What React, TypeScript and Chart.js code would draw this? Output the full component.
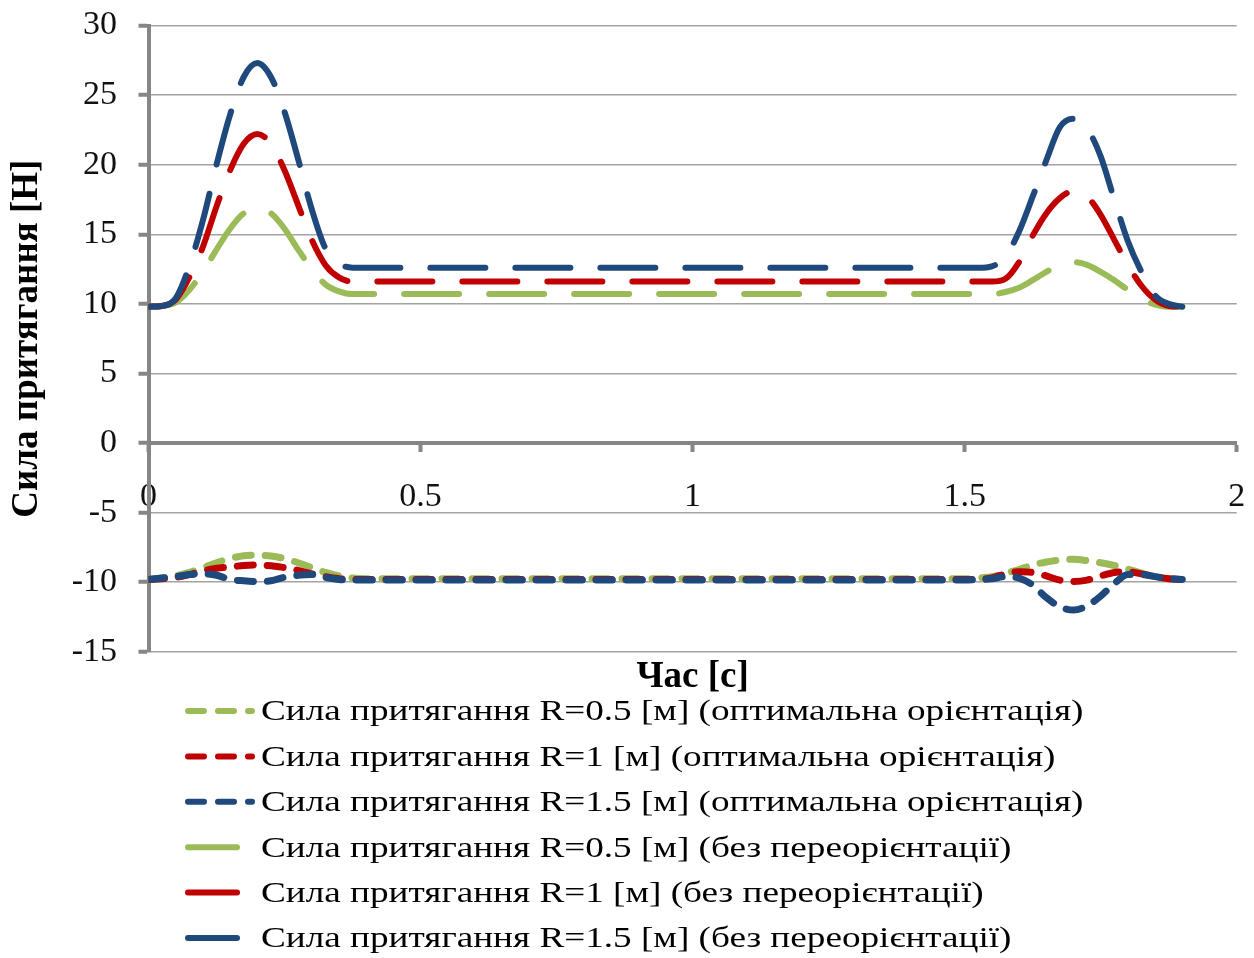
import React, { useEffect, useRef } from 'react';
import { Chart, registerables } from 'chart.js';

Chart.register(...registerables);

// Час, с
const TIME = [
  0, 0.025, 0.05, 0.075, 0.1, 0.125, 0.15, 0.175, 0.2, 0.225, 0.25, 0.275, 0.3, 0.325, 0.35, 0.375, 0.4,
  0.5, 0.6, 0.7, 0.8, 0.9, 1.0, 1.1, 1.2, 1.3, 1.4,
  1.5, 1.525, 1.55, 1.575, 1.6, 1.625, 1.65, 1.675, 1.7, 1.725, 1.75, 1.775, 1.8, 1.825, 1.85, 1.875, 1.9,
];

// Сила притягання, оптимальна орієнтація
const OPT_R05 = [
  -9.8, -9.7, -9.55, -9.3, -8.95, -8.6, -8.3, -8.1, -8.05, -8.12, -8.3, -8.6, -8.95, -9.3, -9.55, -9.7, -9.75,
  -9.75, -9.75, -9.75, -9.75, -9.75, -9.75, -9.75, -9.75, -9.75, -9.75,
  -9.75, -9.7, -9.6, -9.35, -9.1, -8.75, -8.55, -8.4, -8.35, -8.45, -8.6, -8.8, -9.05, -9.35, -9.6, -9.75, -9.8,
];
const OPT_R1 = [
  -9.8, -9.75, -9.65, -9.45, -9.2, -9.0, -8.9, -8.8, -8.76, -8.82, -8.95, -9.15, -9.4, -9.6, -9.75, -9.8, -9.8,
  -9.8, -9.8, -9.8, -9.8, -9.8, -9.8, -9.8, -9.8, -9.8, -9.8,
  -9.8, -9.8, -9.7, -9.4, -9.25, -9.3, -9.55, -9.85, -9.95, -9.85, -9.55, -9.3, -9.25, -9.4, -9.6, -9.75, -9.8,
];
const OPT_R15 = [
  -9.8, -9.7, -9.6, -9.45, -9.4, -9.5, -9.8, -9.9, -9.95, -9.9, -9.65, -9.5, -9.45, -9.65, -9.8, -9.85, -9.85,
  -9.85, -9.85, -9.85, -9.85, -9.85, -9.85, -9.85, -9.85, -9.85, -9.85,
  -9.85, -9.8, -9.75, -9.6, -9.7, -10.2, -11.1, -11.76, -12.0, -11.7, -11.0, -10.1, -9.45, -9.45, -9.6, -9.75, -9.8,
];

// Сила притягання без переорієнтації
const FREE_R05 = [
  9.8, 9.85, 10.1, 11.0, 12.3, 13.9, 15.4, 16.5, 16.8, 16.5, 15.4, 13.9, 12.5, 11.4, 10.9, 10.7, 10.7,
  10.7, 10.7, 10.7, 10.7, 10.7, 10.7, 10.7, 10.7, 10.7, 10.7,
  10.7, 10.7, 10.7, 10.85, 11.15, 11.7, 12.3, 12.8, 13.0, 12.8, 12.3, 11.7, 11.0, 10.35, 9.95, 9.8, 9.8,
];
const FREE_R1 = [
  9.8, 9.85, 10.3, 11.9, 14.1, 17.0, 19.6, 21.5, 22.2, 21.5, 19.6, 17.1, 14.6, 12.8, 11.9, 11.6, 11.6,
  11.6, 11.6, 11.6, 11.6, 11.6, 11.6, 11.6, 11.6, 11.6, 11.6,
  11.6, 11.6, 11.6, 11.8, 13.0, 14.9, 16.5, 17.6, 18.1, 17.7, 16.4, 14.6, 12.8, 11.3, 10.3, 9.85, 9.8,
];
const FREE_R15 = [
  9.8, 9.85, 10.4, 12.7, 16.0, 20.0, 23.6, 26.3, 27.3, 26.3, 23.8, 20.4, 16.8, 14.0, 12.9, 12.6, 12.6,
  12.6, 12.6, 12.6, 12.6, 12.6, 12.6, 12.6, 12.6, 12.6, 12.6,
  12.6, 12.6, 12.7, 13.4, 15.2, 17.7, 20.3, 22.7, 23.3, 22.6, 20.6, 17.5, 14.5, 12.3, 10.6, 10.0, 9.8,
];

const SERIES_LABELS = [
  'Сила притягання R=0.5 [м] (оптимальна орієнтація)',
  'Сила притягання R=1 [м] (оптимальна орієнтація)',
  'Сила притягання R=1.5 [м] (оптимальна орієнтація)',
  'Сила притягання R=0.5 [м] (без переорієнтації)',
  'Сила притягання R=1 [м] (без переорієнтації)',
  'Сила притягання R=1.5 [м] (без переорієнтації)',
];

const Y_TICKS = { min: -15, max: 30, step: 5 };
const X_TICKS = { min: 0, max: 2, step: 0.5 };

const X_TITLE = 'Час [с]';
const Y_TITLE = 'Сила притягання [Н]';

const GREEN = '#9BBB59';
const RED = '#C00000';
const BLUE = '#1F497D';
const AXIS = '#868686';
const GRID = '#a3a3a3';
const SERIF = "'Liberation Serif', 'Times New Roman', serif";

const OPT_DASH = [16, 14];
const FREE_DASH = [55, 30];

// legend geometry (a single left-aligned column under the axis title)
const LEGEND = {
  indent: 39.5, // from the plot's left edge to the sample line
  firstRow: 4.8, // below the bottom of the title band
  rowStep: 45.4,
  dashedLength: 64,
  solidLength: 49,
  textGap: 73,
  fontSize: 30,
  stretch: 1.24,
};

function points(values: number[]) {
  return values.map((v, i) => ({ x: TIME[i], y: v }));
}

function dropScalePadding(scale: any) {
  scale.paddingLeft = 0;
  scale.paddingRight = 0;
  scale.paddingTop = 0;
  scale.paddingBottom = 0;
}

// draws the legend as one column with line samples and wide serif captions
const columnLegend = {
  id: 'columnLegend',
  afterDraw(chart: any) {
    const ctx: CanvasRenderingContext2D = chart.ctx;
    const left = chart.chartArea.left + LEGEND.indent;
    const top = chart.scales.xTitle.bottom + LEGEND.firstRow;
    chart.data.datasets.forEach((ds: any, i: number) => {
      const y = top + i * LEGEND.rowStep;
      const dashed = ds.legendDashed;
      ctx.save();
      ctx.strokeStyle = ds.borderColor;
      ctx.lineWidth = 6;
      ctx.lineCap = 'round';
      ctx.setLineDash(dashed ? OPT_DASH : []);
      ctx.beginPath();
      ctx.moveTo(left, y);
      ctx.lineTo(left + (dashed ? LEGEND.dashedLength : LEGEND.solidLength), y);
      ctx.stroke();
      ctx.setLineDash([]);
      ctx.translate(left + LEGEND.textGap, y + 1.5);
      ctx.scale(LEGEND.stretch, 1);
      ctx.font = `${LEGEND.fontSize}px ${SERIF}`;
      ctx.fillStyle = '#000';
      ctx.textAlign = 'left';
      ctx.textBaseline = 'middle';
      ctx.fillText(ds.label, 0, 0);
      ctx.restore();
    });
  },
};

export default function App() {
  const canvasRef = useRef<HTMLCanvasElement | null>(null);

  useEffect(() => {
    document.body.style.margin = '0';
    const canvas = canvasRef.current;
    if (!canvas) return;

    const series = [
      { values: OPT_R05, color: GREEN, opt: true, order: 2 },
      { values: OPT_R1, color: RED, opt: true, order: 1 },
      { values: OPT_R15, color: BLUE, opt: true, order: 0 },
      { values: FREE_R05, color: GREEN, opt: false, order: 2 },
      { values: FREE_R1, color: RED, opt: false, order: 1 },
      { values: FREE_R15, color: BLUE, opt: false, order: 0 },
    ];

    const datasets = series.map((s, i) => ({
      label: SERIES_LABELS[i],
      data: points(s.values),
      xAxisID: 'x',
      yAxisID: 'y',
      borderColor: s.color,
      backgroundColor: s.color,
      borderWidth: s.opt ? 7 : 6,
      borderDash: s.opt ? OPT_DASH : FREE_DASH,
      borderCapStyle: 'round' as const,
      borderJoinStyle: 'round' as const,
      cubicInterpolationMode: 'monotone' as const,
      pointRadius: 0,
      pointHoverRadius: 0,
      fill: false,
      order: s.order,
      legendDashed: s.opt,
    }));

    const tickFont = { family: SERIF, size: 34 };
    const titleFont = { family: SERIF, size: 37, weight: 'bold' as const };

    const chart = new Chart(canvas, {
      type: 'line',
      data: { datasets },
      plugins: [columnLegend],
      options: {
        responsive: false,
        animation: false,
        locale: 'en-US',
        layout: { padding: { top: 25.5, right: 17.3, bottom: 251.8, left: 4 } },
        plugins: {
          tooltip: { enabled: false },
          legend: { display: false },
        },
        scales: {
          x: {
            type: 'linear',
            min: X_TICKS.min,
            max: X_TICKS.max,
            position: { y: 0 },
            ticks: {
              stepSize: X_TICKS.step,
              padding: 27,
              color: '#111',
              font: tickFont,
              maxRotation: 0,
              callback: (v: any) => String(v),
            },
            grid: {
              drawOnChartArea: false,
              drawTicks: true,
              tickLength: 7,
              tickColor: AXIS,
              tickWidth: 4,
            },
            border: { color: AXIS, width: 4 },
            afterFit: dropScalePadding,
          },
          xTitle: {
            type: 'linear',
            position: 'bottom',
            min: X_TICKS.min,
            max: X_TICKS.max,
            ticks: { display: false },
            grid: { display: false, drawTicks: false },
            border: { display: false },
            title: {
              display: true,
              text: X_TITLE,
              color: '#000',
              font: titleFont,
              padding: { top: 0, bottom: 7 },
            },
            afterFit: (scale: any) => {
              dropScalePadding(scale);
              scale.height = 54.4;
            },
          },
          y: {
            type: 'linear',
            min: Y_TICKS.min,
            max: Y_TICKS.max,
            ticks: {
              stepSize: Y_TICKS.step,
              padding: 21.5,
              color: '#111',
              font: tickFont,
            },
            grid: {
              color: GRID,
              lineWidth: 1.5,
              tickLength: 10,
              tickColor: AXIS,
              tickWidth: 4,
            },
            border: { color: AXIS, width: 4 },
            title: {
              display: true,
              text: Y_TITLE,
              color: '#000',
              font: titleFont,
              padding: { top: 0.8, bottom: 0 },
            },
            afterFit: (scale: any) => {
              dropScalePadding(scale);
              scale.width = 144.5;
            },
          },
        },
      },
    });

    return () => chart.destroy();
  }, []);

  return (
    <div style={{ width: 1254, height: 958, background: '#fff' }}>
      <canvas ref={canvasRef} width={1254} height={958} style={{ display: 'block' }} />
    </div>
  );
}
